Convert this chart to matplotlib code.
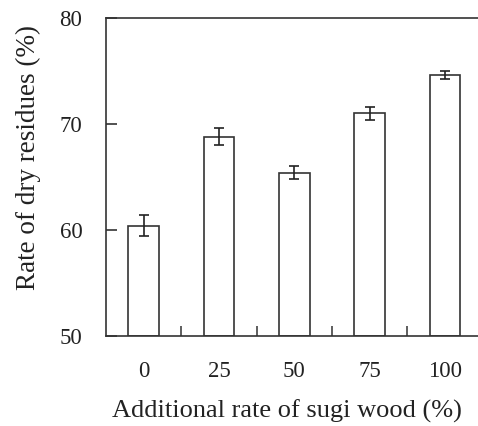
import matplotlib
matplotlib.use("Agg")
import matplotlib.pyplot as plt

# data
categories = ["0", "25", "50", "75", "100"]
residue_rate = [60.4, 68.8, 65.4, 71.0, 74.6]
residue_err = [1.0, 0.8, 0.6, 0.6, 0.4]

plt.rcParams['font.family'] = ['Liberation Serif', 'DejaVu Serif']

fig = plt.figure(figsize=(4.78, 4.26), dpi=100)
ax = fig.add_axes([106/478, 90/426, 376.6/478, 318/426])

x = list(range(len(categories)))
ax.bar(x, [v - 50 for v in residue_rate], bottom=50, width=0.405,
       facecolor='white', edgecolor='#333333', linewidth=1.2)
ax.errorbar(x, residue_rate, yerr=residue_err, fmt='none', ecolor='#222222',
            elinewidth=1.2, capsize=3.3, capthick=1.2)

ax.set_xlim(-0.5, 4.5)
ax.set_ylim(50, 80)
ax.set_yticks([50, 60, 70, 80])
ax.set_xticks(x)
ax.set_xticklabels(categories)
ax.set_xticks([0.5, 1.5, 2.5, 3.5], minor=True)

ax.tick_params(axis='x', which='major', length=0, pad=18, labelsize=16.5, colors='#222222')
ax.tick_params(axis='x', which='minor', direction='in', length=7, width=1.1, color='#333333')
ax.tick_params(axis='y', direction='in', length=8, width=1.1, pad=17, labelsize=16.5,
               colors='#222222')

ax.spines['right'].set_visible(False)
for s in ['left', 'top', 'bottom']:
    ax.spines[s].set_linewidth(1.2)
    ax.spines[s].set_color('#333333')

ax.set_ylabel('Rate of dry residues (%)', fontsize=19.5, color='#222222')
ax.yaxis.set_label_coords(-0.173, 0.56)
ax.set_xlabel('Additional rate of sugi wood (%)', fontsize=19, color='#222222')
ax.xaxis.set_label_coords(0.48, -0.2)

fig.savefig('out.png', dpi=100)
